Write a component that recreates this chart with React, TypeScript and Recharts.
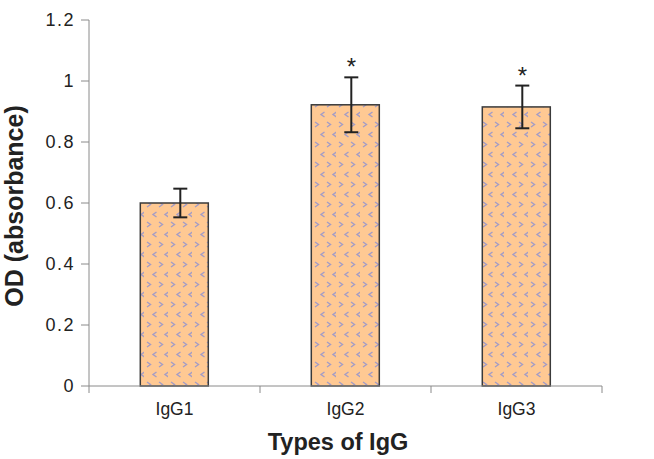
import React from 'react';
import { ComposedChart, Bar, XAxis, YAxis } from 'recharts';

const categories = ['IgG1', 'IgG2', 'IgG3'];
const values = [0.6, 0.922, 0.915];
const errors = [0.047, 0.09, 0.07];
const significance = ['', '*', '*'];
const yTicks = [0, 0.2, 0.4, 0.6, 0.8, 1, 1.2];

const data = categories.map((name, i) => ({
  name,
  value: values[i],
  err: errors[i],
  sig: significance[i],
}));

const FONT = '"Liberation Sans", Arial, sans-serif';
const AXIS = '#8a8a8a';

const XTick = (props: any) => {
  const { x, y, payload, index } = props;
  const half = payload && payload.offset ? payload.offset : 85.5;
  return (
    <g>
      <line x1={x - half} y1={y} x2={x - half} y2={y + 7} stroke={AXIS} strokeWidth={1} />
      {index === categories.length - 1 && (
        <line x1={x + half} y1={y} x2={x + half} y2={y + 7} stroke={AXIS} strokeWidth={1} />
      )}
      <text x={x} y={y + 29} textAnchor="middle" fontSize={17.5} fontFamily={FONT} fill="#222">
        {payload.value}
      </text>
    </g>
  );
};

// bar with pattern fill, error bar and significance mark, all derived from the bar's scaled geometry
const BarWithError = (props: any) => {
  const { x, y, width, height, payload } = props;
  const pxPerUnit = payload.value ? height / payload.value : 0;
  const ex = x + width / 2 + 6;
  const yTop = y - payload.err * pxPerUnit;
  const yBot = y + payload.err * pxPerUnit;
  const cap = 7;
  return (
    <g>
      <rect x={x} y={y} width={width} height={height} fill="url(#chev)" stroke="#3a3a3a" strokeWidth={1.5} />
      <line x1={ex} y1={yTop} x2={ex} y2={yBot} stroke="#222" strokeWidth={2} />
      <line x1={ex - cap} y1={yTop} x2={ex + cap} y2={yTop} stroke="#222" strokeWidth={2} />
      <line x1={ex - cap} y1={yBot} x2={ex + cap} y2={yBot} stroke="#222" strokeWidth={2} />
      {payload.sig && (
        <text x={ex} y={yTop - 2} textAnchor="middle" fontSize={24} fontFamily={FONT} fill="#222">
          {payload.sig}
        </text>
      )}
    </g>
  );
};

export default function App() {
  return (
    <div style={{ position: 'absolute', left: 0, top: 0, width: 654, height: 459, background: '#fff' }}>
      <svg width={0} height={0} style={{ position: 'absolute' }}>
        <defs>
          <pattern id="chev" patternUnits="userSpaceOnUse" width={24} height={20}>
            <rect width={24} height={20} fill="#FFC993" />
            <path d="M3 2 L6.5 4.5 L3 7 M15 2 L18.5 4.5 L15 7" stroke="#A39CC6" strokeWidth={1.4} fill="none" />
            <path d="M12.5 12 L9 14.5 L12.5 17 M24.5 12 L21 14.5 L24.5 17" stroke="#A39CC6" strokeWidth={1.4} fill="none" />
          </pattern>
        </defs>
      </svg>
      <ComposedChart
        width={654}
        height={459}
        data={data}
        margin={{ top: 20, right: 52, left: 0, bottom: 0 }}
        barCategoryGap="30%"
      >
        <XAxis
          dataKey="name"
          height={73}
          axisLine={{ stroke: AXIS }}
          tickLine={false}
          tickSize={0}
          tickMargin={0}
          tick={<XTick />}
          interval={0}
          label={{
            content: () => (
              <text x={338} y={450} textAnchor="middle" fontSize={23.5} fontWeight="bold" fontFamily={FONT} fill="#222">
                Types of IgG
              </text>
            ),
          }}
        />
        <YAxis
          width={89}
          domain={[0, 1.2]}
          ticks={yTicks}
          interval={0}
          axisLine={{ stroke: AXIS }}
          tickLine={{ stroke: AXIS }}
          tickSize={8}
          tickMargin={6}
          tickFormatter={(v: number) => String(Number(v.toFixed(1)))}
          tick={{ fontSize: 18, fontFamily: FONT, fill: '#222', letterSpacing: 1.5 }}
          label={{
            content: () => (
              <text
                x={14}
                y={206}
                transform="rotate(-90, 14, 206)"
                textAnchor="middle"
                dominantBaseline="central"
                fontSize={25}
                fontWeight="bold"
                fontFamily={FONT}
                fill="#222"
              >
                OD (absorbance)
              </text>
            ),
          }}
        />
        <Bar dataKey="value" shape={<BarWithError />} isAnimationActive={false} />
      </ComposedChart>
    </div>
  );
}
